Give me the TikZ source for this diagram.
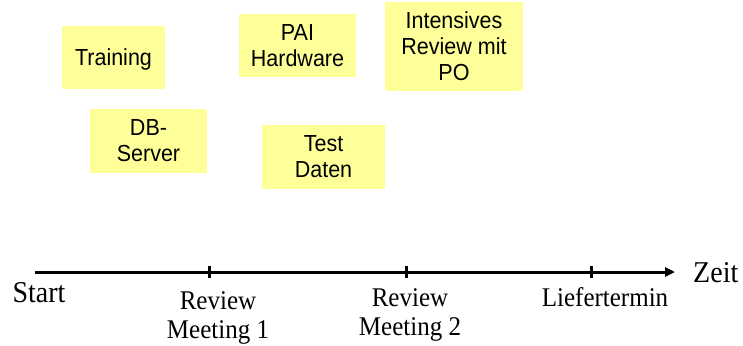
\documentclass[tikz,border=0pt]{standalone}
\usepackage{fontspec}
\usepackage{graphicx}
\setmainfont{Liberation Sans}
\newfontfamily\tlfont{Liberation Serif}
\usetikzlibrary{arrows.meta}
\definecolor{sticky}{RGB}{255,255,153}
\newcommand\vst[1]{\scalebox{1}[1.08]{#1}}
\tikzset{
  note/.style={fill=sticky, draw=none, inner sep=0pt, align=center,
    text depth=0pt, font=\fontsize{21.5}{26}\selectfont},
  tllabel/.style={align=center, inner sep=0pt, anchor=base,
    font=\tlfont\fontsize{25}{29}\selectfont},
  axis/.style={line width=3pt, -{Triangle[length=10pt,width=9pt]}},
  tick/.style={line width=3pt}
}
\begin{document}
\begin{tikzpicture}[x=1pt,y=-1pt]
\useasboundingbox (0,0) rectangle (743,345);
% sticky notes
\node[note, minimum width=103pt, minimum height=63pt] (training) at (113.5,57.5) {\vst{Training}};
\node[note, minimum width=117pt, minimum height=63pt] (pai) at (297.5,45.5) {\vst{PAI}\\\vst{Hardware}};
\node[note, minimum width=117pt, minimum height=64pt] (db) at (148.5,141) {\vst{DB-}\\\vst{Server}};
\node[note, minimum width=123pt, minimum height=64pt] (test) at (323.5,157) {\vst{Test}\\\vst{Daten}};
\node[note, minimum width=138pt, minimum height=89pt] (po) at (454,46.5) {\vst{Intensives}\\\vst{Review mit}\\\vst{PO}};
% timeline
\coordinate (t0) at (35,272);
\coordinate (tend) at (675,272);
\coordinate (m1) at (209,272);
\coordinate (m2) at (406,272);
\coordinate (m3) at (591,272);
\draw[axis] (t0) -- (tend);
\foreach \m in {m1,m2,m3} {
  \draw[tick] ([yshift=-6pt]\m) -- ([yshift=6pt]\m);
}
\node[tllabel, anchor=base west, font=\tlfont\fontsize{28}{32}\selectfont] (zeit) at (693,282) {\vst{Zeit}};
\node[tllabel, font=\tlfont\fontsize{28}{32}\selectfont] (start) at (39,302) {\vst{Start}};
\node[tllabel] (r1) at (218,338) {\vst{Review}\\\vst{Meeting 1}};
\node[tllabel] (r2) at (410,335) {\vst{Review}\\\vst{Meeting 2}};
\node[tllabel] (lt) at (605,306) {\vst{Liefertermin}};
\end{tikzpicture}
\end{document}
